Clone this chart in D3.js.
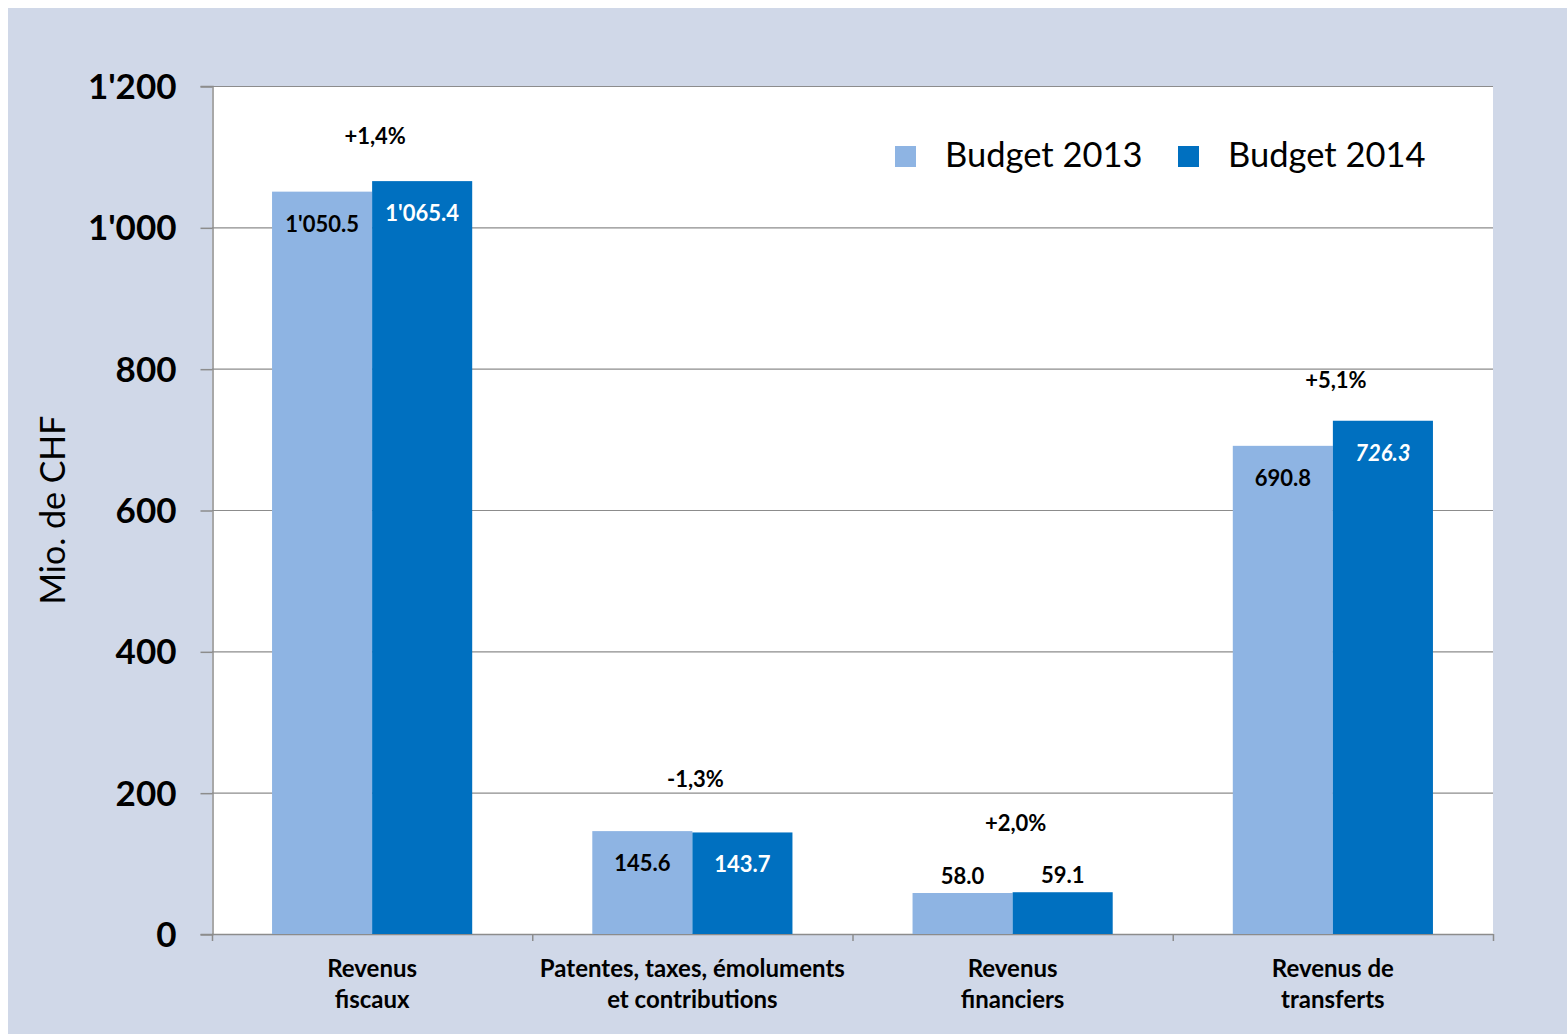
<!DOCTYPE html>
<html>
<head>
<meta charset="utf-8">
<script src="https://cdn.jsdelivr.net/npm/d3@7/dist/d3.min.js"></script>
<style>
  html, body { margin: 0; padding: 0; background: #ffffff; }
  svg { display: block; }
  text { font-family: Lato, "Open Sans", sans-serif; }
</style>
</head>
<body>
<svg id="chart" width="1567" height="1034"></svg>
<script>
// Revenue categories (two-line labels)
const categories = [
  ["Revenus", "fiscaux"],
  ["Patentes, taxes, émoluments", "et contributions"],
  ["Revenus", "financiers"],
  ["Revenus de", "transferts"]
];
const seriesNames = ["Budget 2013", "Budget 2014"];
const budget2013 = [1050.5, 145.6, 58.0, 690.8];
const budget2014 = [1065.4, 143.7, 59.1, 726.3];
const changeLabels = ["+1,4%", "-1,3%", "+2,0%", "+5,1%"];
const yTicks = [0, 200, 400, 600, 800, 1000, 1200];

// Layout
const W = 1567, H = 1034;
const plot = { left: 212, right: 1493, top: 86, bottom: 934 };
const colors = ["#8EB4E3", "#0070C0"];
const labelColors = ["#000000", "#ffffff"];
const labelItalic = [[false, false, false, false], [false, false, false, true]];
// value labels for short bars sit above the bar
const labelOutside = [false, false, true, false];
// vertical lift of the change label above the taller bar (px)
const changeLift = [45, 52, 69, 41];

const svg = d3.select("#chart");

// background panel
svg.append("rect").attr("x", 8).attr("y", 8).attr("width", W - 8).attr("height", H - 8)
  .attr("fill", "#D0D8E8");
svg.append("rect").attr("x", plot.left).attr("y", plot.top)
  .attr("width", plot.right - plot.left).attr("height", plot.bottom - plot.top)
  .attr("fill", "#ffffff");

const y = d3.scaleLinear().domain([0, 1200]).range([plot.bottom, plot.top]);
const x0 = d3.scaleBand().domain(d3.range(categories.length))
  .range([plot.left, plot.right]).paddingInner(0).paddingOuter(0);
// two bars per category, a gap of 0.6 bar width on each side
const x1 = d3.scaleBand().domain([0, 1])
  .range([0, x0.bandwidth()]).paddingInner(0).paddingOuter(0.6);

// gridlines
svg.append("g").selectAll("line").data(yTicks.filter(d => d > 0)).join("line")
  .attr("x1", plot.left).attr("x2", plot.right)
  .attr("y1", d => y(d) + 0.5).attr("y2", d => y(d) + 0.5)
  .attr("stroke", "#8c8c8c").attr("stroke-width", 1.2);

// y axis
const yAxis = d3.axisLeft(y).tickValues(yTicks).tickSize(12).tickPadding(24)
  .tickFormat(d => d3.format(",")(d).replace(/,/g, "'"));
const gy = svg.append("g").attr("transform", `translate(${plot.left + 0.5},0)`).call(yAxis);
gy.select(".domain").attr("stroke", "#8c8c8c").attr("stroke-width", 1.5);
gy.selectAll(".tick line").attr("stroke", "#8c8c8c").attr("stroke-width", 1.5)
  .attr("transform", "translate(0,0.5)");
gy.selectAll(".tick text").attr("font-family", "Lato, sans-serif")
  .attr("font-size", 35).attr("font-weight", 700).attr("fill", "#000")
  .attr("dy", "0.36em");

// x axis: ticks at category boundaries
const xBounds = d3.range(categories.length + 1).map(i => plot.left + i * x0.step());
svg.append("line").attr("x1", plot.left).attr("x2", plot.right)
  .attr("y1", plot.bottom + 0.5).attr("y2", plot.bottom + 0.5)
  .attr("stroke", "#8c8c8c").attr("stroke-width", 1.5);
svg.append("g").selectAll("line").data(xBounds).join("line")
  .attr("x1", d => d + 0.5).attr("x2", d => d + 0.5)
  .attr("y1", plot.bottom).attr("y2", plot.bottom + 7)
  .attr("stroke", "#8c8c8c").attr("stroke-width", 1.5);

// category labels
const catG = svg.append("g").selectAll("text").data(categories).join("text")
  .attr("x", (d, i) => x0(i) + x0.bandwidth() / 2)
  .attr("y", 977)
  .attr("text-anchor", "middle")
  .attr("font-size", 24).attr("font-weight", 700).attr("fill", "#000");
catG.each(function(d) {
  const t = d3.select(this);
  d.forEach((line, k) => t.append("tspan").attr("x", t.attr("x"))
    .attr("dy", k === 0 ? 0 : 31).text(line));
});

// bars
const series = [budget2013, budget2014];
const groups = svg.append("g").selectAll("g").data(categories).join("g")
  .attr("transform", (d, i) => `translate(${x0(i)},0)`);

groups.each(function(d, i) {
  const g = d3.select(this);
  series.forEach((vals, s) => {
    const v = vals[i];
    g.append("rect")
      .attr("x", x1(s)).attr("width", x1.bandwidth())
      .attr("y", y(v)).attr("height", y(0) - y(v))
      .attr("fill", colors[s]);
    const outside = labelOutside[i];
    g.append("text")
      .attr("x", x1(s) + x1.bandwidth() / 2)
      .attr("y", outside ? y(v) - 9 : y(v) + 40)
      .attr("text-anchor", "middle")
      .attr("font-size", 22).attr("font-weight", 700)
      .attr("font-style", labelItalic[s][i] ? "italic" : "normal")
      .attr("fill", outside ? "#000" : labelColors[s])
      .text(d3.format(",.1f")(v).replace(/,/g, "'"));
  });
  const top = Math.max(budget2013[i], budget2014[i]);
  g.append("text")
    .attr("x", x0.bandwidth() / 2 + 3)
    .attr("y", y(top) - changeLift[i] + 8)
    .attr("text-anchor", "middle")
    .attr("font-size", 22).attr("font-weight", 700).attr("fill", "#000")
    .text(changeLabels[i]);
});

// legend
const legend = svg.append("g").attr("transform", "translate(895,146)");
const legendX = [0, 283];
seriesNames.forEach((name, s) => {
  const lg = legend.append("g").attr("transform", `translate(${legendX[s]},0)`);
  lg.append("rect").attr("width", 21).attr("height", 21).attr("fill", colors[s]);
  lg.append("text").attr("x", 50).attr("y", 21)
    .attr("font-size", 34.5).attr("fill", "#000").text(name);
});

// y axis title
svg.append("text")
  .attr("transform", `translate(65,${(plot.top + plot.bottom) / 2}) rotate(-90)`)
  .attr("text-anchor", "middle")
  .attr("font-size", 34).attr("fill", "#000")
  .text("Mio. de CHF");
</script>
</body>
</html>
